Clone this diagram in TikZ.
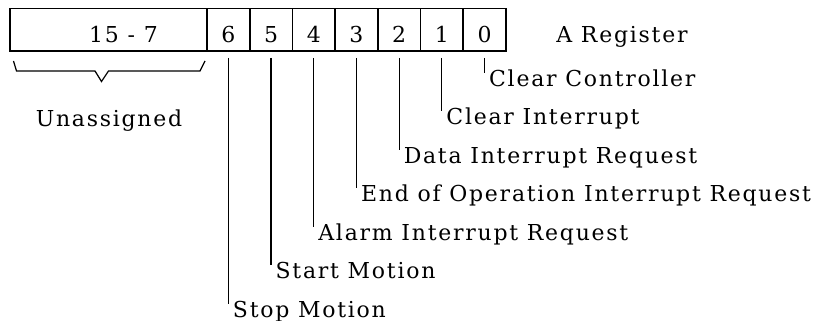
\documentclass[tikz,border=0pt]{standalone}
\usepackage{fontspec}
\setmainfont{DejaVu Serif}[LetterSpace=8]
\usetikzlibrary{positioning,calc}

\begin{document}
\begin{tikzpicture}[font=\fontsize{12.5}{14}\selectfont, line width=0.7pt,
    cell/.style={draw, line width=1pt, inner sep=0pt, minimum width=0.854cm,
                 text height=0.69cm, text depth=0.16cm},
    lbl/.style={anchor=base west, inner sep=0pt}]
  \useasboundingbox (0,0) rectangle (16.32,-6.42);
  % register cells
  \node[cell, minimum width=3.94cm] (u) at (2.17,-0.595) {};
  \node[anchor=base] (range) at ($(u.base)+(0.3,0)$) {15 - 7};
  \foreach \k in {6,...,0}
    \node[cell] (b\k) at ({4.567+(6-\k)*0.854},-0.595) {\k};
  \node[lbl] (areg) at ([xshift=0.98cm]b0.base east) {A Register};
  % unassigned bits
  \coordinate (tip) at (2.03,-1.63);
  \draw (0.27,-1.22) -- (0.33,-1.42) -- (1.9,-1.42) -- (tip)
        -- (2.17,-1.42) -- (4.0,-1.42) -- (4.1,-1.22);
  \node[anchor=base] (unas) at (2.18,-2.54) {Unassigned};
  % bit leaders
  \foreach \k/\txt in {0/Clear Controller, 1/Clear Interrupt,
      2/Data Interrupt Request, 3/End of Operation Interrupt Request,
      4/Alarm Interrupt Request, 5/Start Motion, 6/Stop Motion} {
    \coordinate (e\k) at ($(b\k.south)+(0,{-0.42-\k*0.77})$);
    \draw ([yshift=-0.12cm]b\k.south) -- (e\k);
    \node[lbl] (l\k) at ([shift={(0.08,-0.27)}]e\k) {\txt};
  }
\end{tikzpicture}
\end{document}
